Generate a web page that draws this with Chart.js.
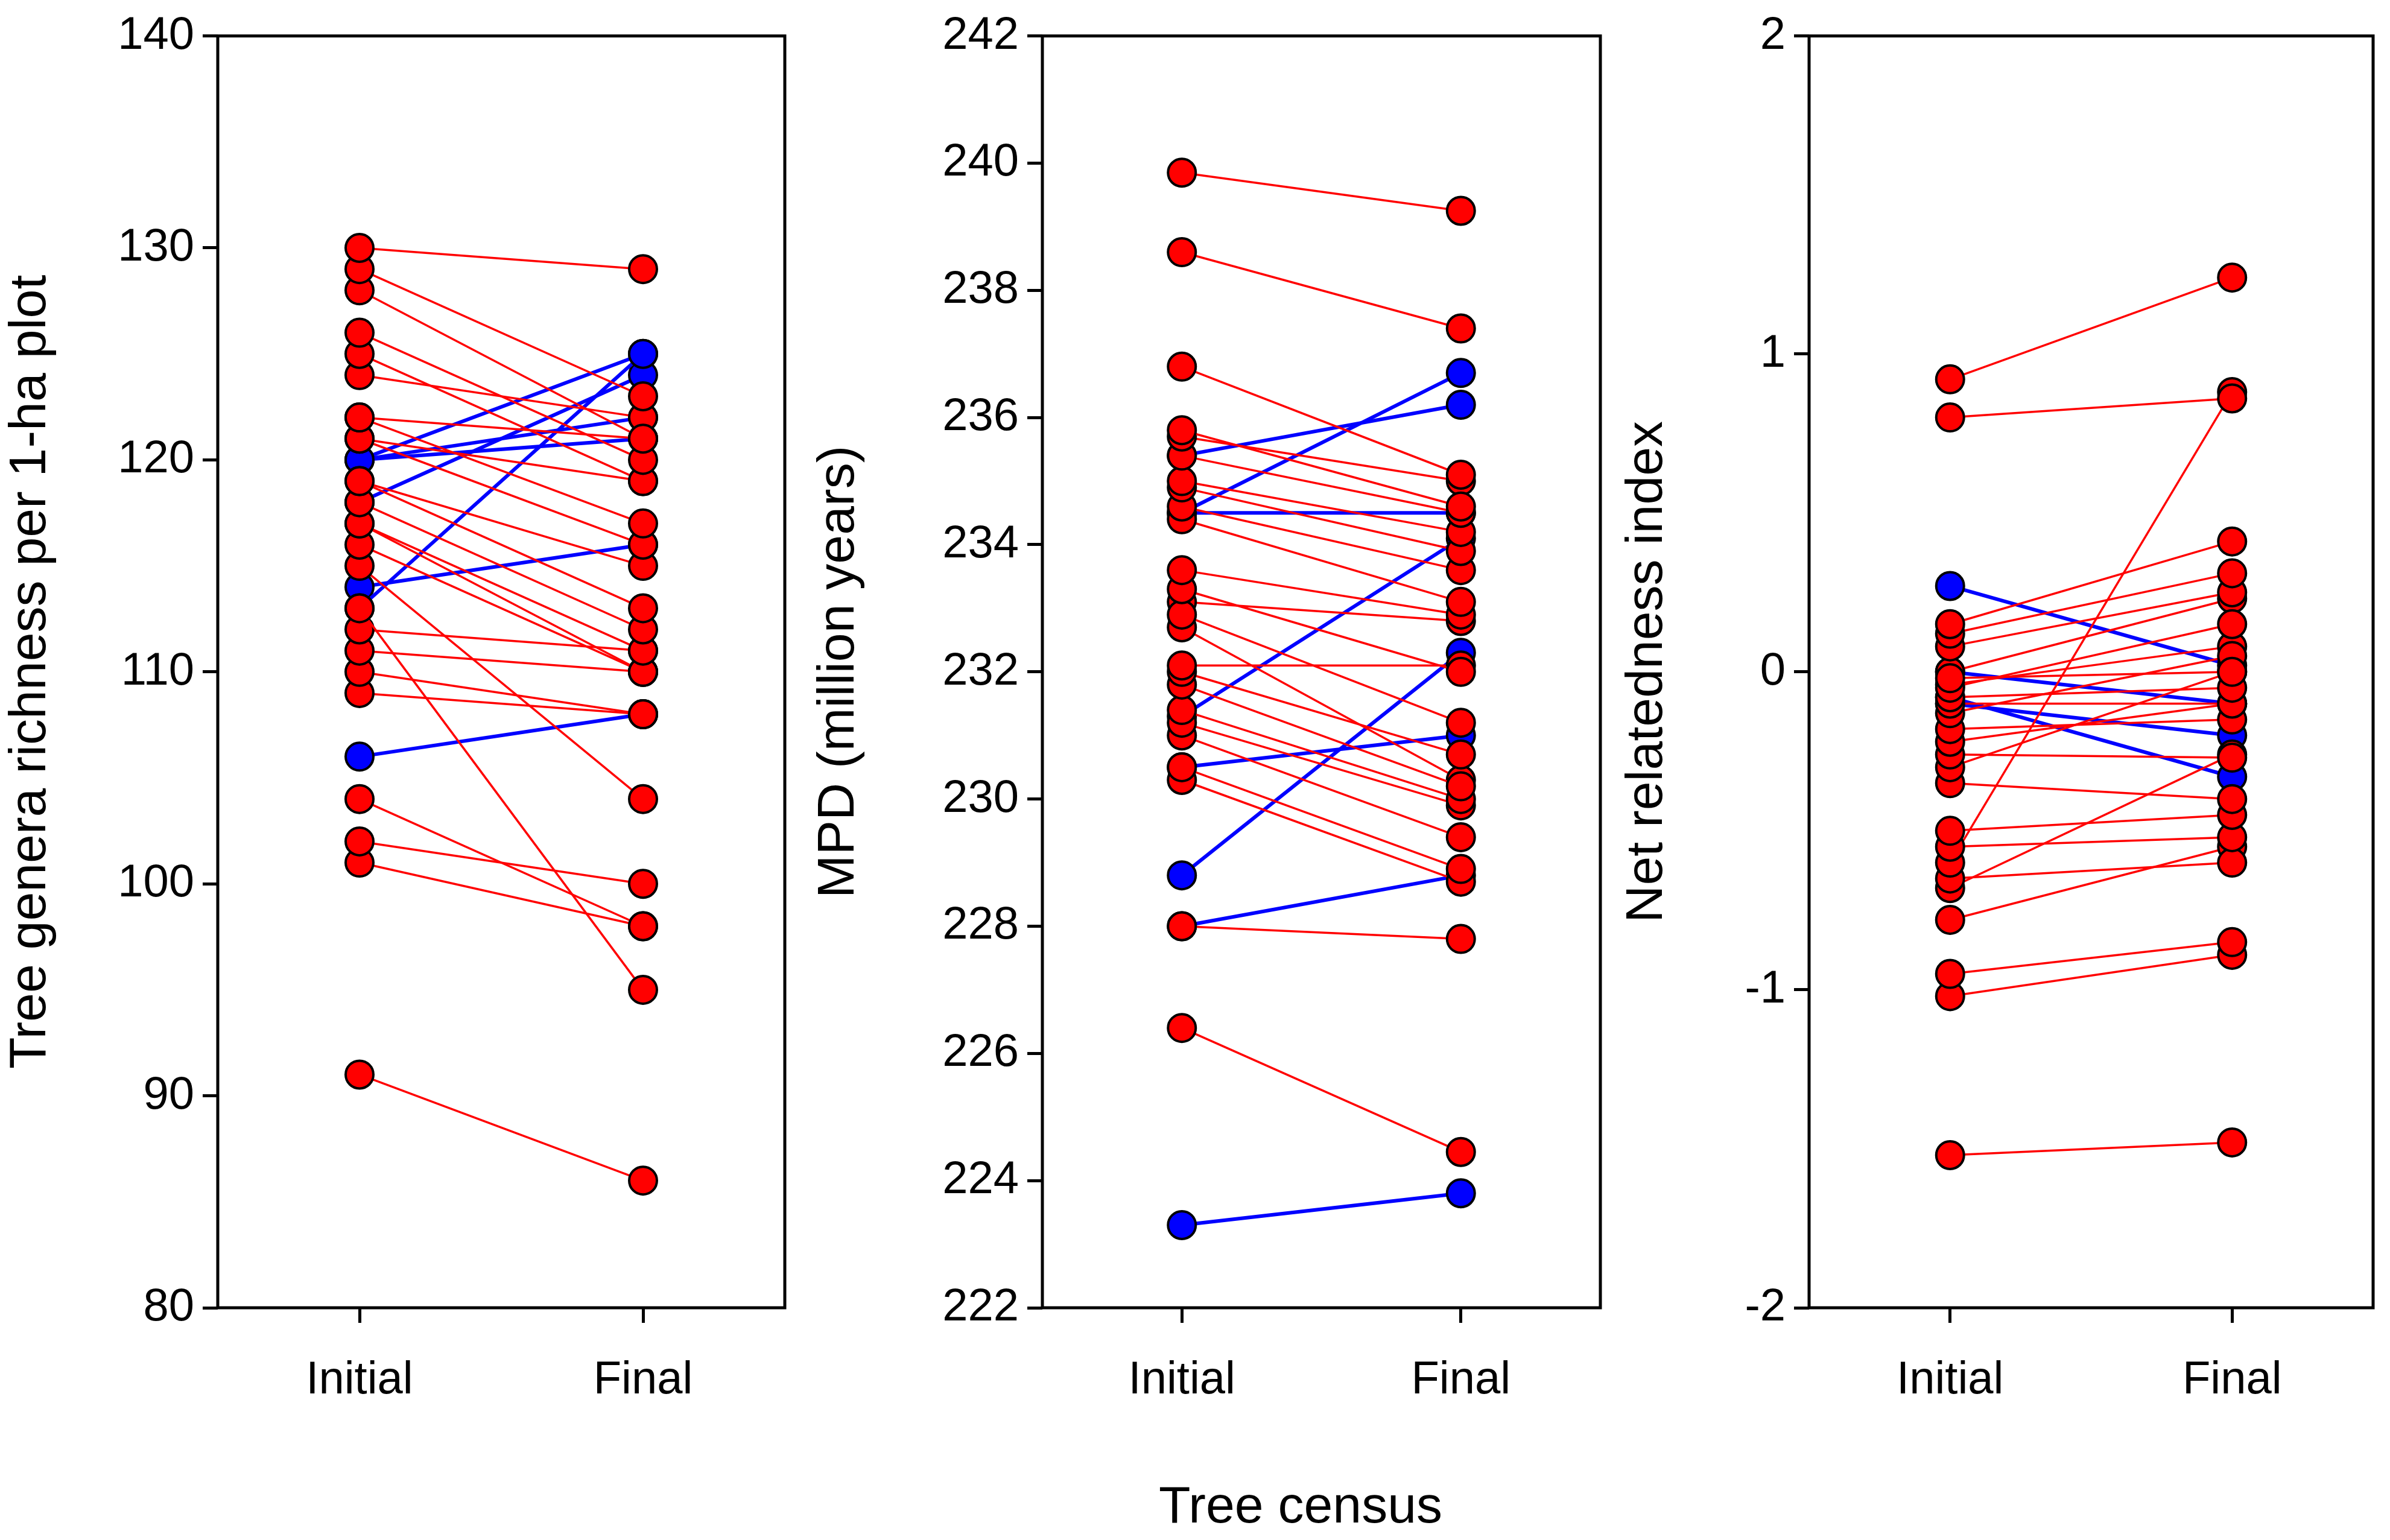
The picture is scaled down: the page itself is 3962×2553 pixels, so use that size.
<!DOCTYPE html>
<html><head><meta charset="utf-8">
<script src="https://cdn.jsdelivr.net/npm/chart.js@4"></script>
<style>
body{margin:0;background:#fff;width:3962px;height:2553px;position:relative;overflow:hidden;font-family:"Liberation Sans",Arial,sans-serif}
canvas{position:absolute;top:0}
#xt{position:absolute;left:0;width:4312px;top:2445px;text-align:center;font-size:86px}
</style></head><body>
<canvas id="c1" style="left:0" width="1330" height="2553"></canvas>
<canvas id="c2" style="left:1340px" width="1340" height="2553"></canvas>
<canvas id="c3" style="left:2680px" width="1282" height="2553"></canvas>
<div id="xt">Tree census</div>
<script>
const censusLabels = ['Initial', 'Final']

// [initial, final] per plot
const richnessRed = [[130,129],[129,123],[128,121],[126,120],[125,119],[124,122],[122,117],[122,121],[121,116],[121,119],[119,115],[119,113],[118,112],[117,111],[117,110],[116,110],[115,104],[113,95],[112,111],[111,110],[110,108],[109,108],[104,98],[102,100],[101,98],[91,86]]
const richnessBlue = [[106,108],[113,125],[114,116],[118,124],[120,121],[120,122],[120,125]]

const mpdRed = [[239.85,239.25],[238.6,237.4],[236.8,235.1],[235.8,234.6],[235.7,235.0],[235.4,234.5],[235.0,234.2],[234.9,233.9],[234.6,233.6],[234.4,233.1],[233.6,232.9],[233.3,232.0],[232.9,231.2],[232.1,232.1],[232.0,230.7],[231.8,230.2],[231.4,230.0],[231.2,229.9],[231.0,229.4],[230.5,228.9],[230.3,228.7],[228.0,227.8],[226.4,224.45],[232.7,230.3],[233.1,232.8]]
const mpdBlue = [[223.3,223.8],[228.0,228.8],[228.8,232.3],[230.5,231.0],[231.3,234.1],[235.4,236.2],[234.5,234.5],[234.5,236.7]]

const nriRed = [[0.92,1.24],[0.80,0.86],[0.15,0.41],[0.12,0.31],[0.08,0.25],[-0.02,0.0],[-0.05,0.15],[-0.08,-0.05],[-0.10,-0.10],[-0.13,0.05],[-0.18,-0.15],[-0.22,-0.10],[-0.26,-0.27],[-0.30,0.0],[-0.35,-0.40],[-0.50,-0.45],[-0.55,-0.52],[-0.60,0.88],[-0.65,-0.60],[-0.68,-0.26],[-0.78,-0.55],[-0.95,-0.85],[-1.02,-0.89],[-1.52,-1.48],[0.0,0.23],[-0.04,0.08]]
const nriBlue = [[0.27,0.02],[0.0,-0.10],[-0.08,-0.33],[-0.10,-0.20]]

const frame = {
  id: 'frame',
  afterDraw(chart) {
    const a = chart.chartArea, ctx = chart.ctx
    ctx.save()
    ctx.strokeStyle = '#000'
    ctx.lineWidth = 5
    ctx.strokeRect(a.left, a.top, a.right - a.left, a.bottom - a.top)
    ctx.restore()
  }
}

function pairSets(pairs, color, width) {
  return pairs.map(p => ({
    data: [{x: 0, y: p[0]}, {x: 1, y: p[1]}],
    borderColor: color,
    borderWidth: width,
    pointBackgroundColor: color,
    pointBorderColor: '#000',
    pointBorderWidth: 4,
    pointRadius: 23
  }))
}

function makePanel(id, red, blue, yMin, yMax, step, title, axisW, padRight) {
  new Chart(document.getElementById(id), {
    type: 'line',
    data: { datasets: [...pairSets(red, '#ff0000', 3.5), ...pairSets(blue, '#0000ff', 6)] },
    options: {
      responsive: false,
      animation: false,
      layout: { padding: { top: 56, right: padRight, bottom: 0, left: 0 } },
      plugins: { legend: { display: false }, tooltip: { enabled: false } },
      scales: {
        x: {
          type: 'linear', min: -0.5, max: 1.5,
          afterBuildTicks: s => { s.ticks = [{value: 0}, {value: 1}] },
          afterFit: s => { s.height = 385 },
          ticks: { callback: v => censusLabels[v], color: '#000', font: { size: 76, family: 'Liberation Sans' }, padding: 50 },
          grid: { drawOnChartArea: false, tickLength: 25, tickWidth: 5, color: '#000' },
          border: { display: false }
        },
        y: {
          min: yMin, max: yMax,
          afterFit: s => { s.width = axisW },
          ticks: { stepSize: step, color: '#000', font: { size: 76, family: 'Liberation Sans' }, padding: 14 },
          grid: { drawOnChartArea: false, tickLength: 25, tickWidth: 5, color: '#000' },
          border: { display: false },
          title: { display: true, text: title, color: '#000', font: { size: 86, family: 'Liberation Sans' }, padding: { top: 0, bottom: 8 } }
        }
      }
    },
    plugins: [frame]
  })
}

makePanel('c1', richnessRed, richnessBlue, 80, 140, 10, 'Tree genera richness per 1-ha plot', 361, 29)
makePanel('c2', mpdRed, mpdBlue, 222, 242, 2, 'MPD (million years)', 388, 2)
makePanel('c3', nriRed, nriBlue, -2, 2, 1, 'Net relatedness index', 319, 28)
</script>
</body></html>
